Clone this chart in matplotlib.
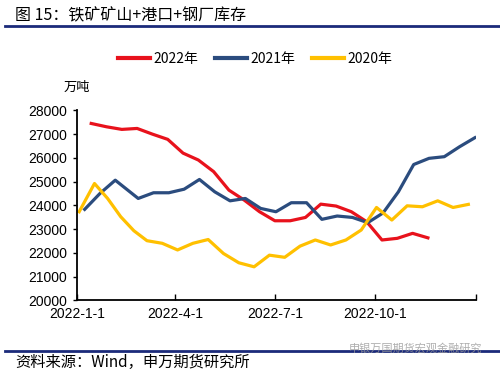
import matplotlib
matplotlib.use("Agg")
import matplotlib.pyplot as plt
import pandas as pd


# 2022 (red)
dates_2022 = ["2022-01-14", "2022-01-28", "2022-02-11", "2022-02-25", "2022-03-11",
              "2022-03-25", "2022-04-08", "2022-04-22", "2022-05-06", "2022-05-20",
              "2022-06-03", "2022-06-17", "2022-07-01", "2022-07-15", "2022-07-29",
              "2022-08-12", "2022-08-26", "2022-09-09", "2022-09-23", "2022-10-07",
              "2022-10-21", "2022-11-04", "2022-11-18"]
values_2022 = [27450, 27310, 27200, 27240, 27000,
               26780, 26200, 25910, 25420, 24640,
               24220, 23730, 23350, 23350, 23490,
               24050, 23970, 23730, 23310, 22540,
               22610, 22820, 22630]

# 2021 (blue)
dates_2021 = ["2022-01-08", "2022-01-22", "2022-02-05", "2022-02-26", "2022-03-12",
              "2022-03-26", "2022-04-09", "2022-04-23", "2022-05-07", "2022-05-21",
              "2022-06-04", "2022-06-18", "2022-07-02", "2022-07-16", "2022-07-30",
              "2022-08-13", "2022-08-27", "2022-09-10", "2022-09-24", "2022-10-08",
              "2022-10-22", "2022-11-05", "2022-11-19", "2022-12-03", "2022-12-17",
              "2022-12-31"]
values_2021 = [23830, 24500, 25060, 24290, 24530,
               24530, 24680, 25090, 24570, 24190,
               24290, 23870, 23730, 24110, 24110,
               23410, 23550, 23490, 23270, 23680,
               24570, 25720, 25980, 26050, 26470,
               26850]

# 2020 (yellow)
dates_2020 = ["2022-01-03", "2022-01-17", "2022-01-29", "2022-02-10", "2022-02-22",
              "2022-03-06", "2022-03-20", "2022-04-03", "2022-04-17", "2022-05-01",
              "2022-05-15", "2022-05-29", "2022-06-12", "2022-06-26", "2022-07-10",
              "2022-07-24", "2022-08-07", "2022-08-21", "2022-09-04", "2022-09-18",
              "2022-10-02", "2022-10-16", "2022-10-30", "2022-11-13", "2022-11-27",
              "2022-12-11", "2022-12-25"]
values_2020 = [23730, 24920, 24290, 23520, 22930,
               22510, 22400, 22120, 22400, 22560,
               21970, 21580, 21410, 21900, 21810,
               22280, 22540, 22330, 22540, 22960,
               23910, 23380, 23980, 23940, 24190,
               23910, 24040]

x_ticks = ["2022-01-01", "2022-04-01", "2022-07-01", "2022-10-01", "2023-01-01"]
x_tick_labels = ["2022-1-1", "2022-4-1", "2022-7-1", "2022-10-1", ""]
y_ticks = list(range(20000, 28001, 1000))

RED = "#E8121C"
BLUE = "#2B4C7E"
YELLOW = "#FFC000"
NAVY = "#1B2A7A"

plt.rcParams["font.family"] = ["Liberation Sans", "Noto Sans CJK SC", "DejaVu Sans"]
CJK = ["Noto Sans CJK SC", "DejaVu Sans"]

fig = plt.figure(figsize=(5.0, 3.73), dpi=100)
ax = fig.add_axes([0.154, 0.195, 0.798, 0.509])

ax.plot(pd.to_datetime(dates_2022), values_2022, color=RED, lw=2.3, label="2022年")
ax.plot(pd.to_datetime(dates_2021), values_2021, color=BLUE, lw=2.3, label="2021年")
ax.plot(pd.to_datetime(dates_2020), values_2020, color=YELLOW, lw=2.3, label="2020年")

ax.set_xlim(pd.Timestamp("2022-01-01"), pd.Timestamp("2023-01-01"))
ax.set_ylim(20000, 28000)
ax.set_yticks(y_ticks)
ax.set_xticks(pd.to_datetime(x_ticks))
ax.set_xticklabels(x_tick_labels)
ax.tick_params(axis="x", direction="in", length=4, width=1, labelsize=10, pad=5)
ax.tick_params(axis="y", direction="out", length=3, width=1, labelsize=10, pad=4)

for side in ["top", "right"]:
    ax.spines[side].set_visible(False)
for side in ["left", "bottom"]:
    ax.spines[side].set_linewidth(1.3)
    ax.spines[side].set_color("black")

leg = fig.legend(loc="center", bbox_to_anchor=(0.51, 0.842), ncol=3, frameon=False,
                 handlelength=2.3, handletextpad=0.25, columnspacing=1.2,
                 prop={"family": CJK, "size": 10})
for line in leg.get_lines():
    line.set_linewidth(3)

fig.text(0.154, 0.767, "万吨", fontsize=9.5, family=CJK, ha="center", va="center")

# title and footer
fig.text(0.03, 0.958, "图 15：铁矿矿山+港口+钢厂库存", fontsize=11.5, family=CJK,
         ha="left", va="center")
fig.add_artist(plt.Line2D([0.01, 1.0], [0.930, 0.930], color=NAVY, lw=2,
                          transform=fig.transFigure))
fig.add_artist(plt.Line2D([0.01, 1.0], [0.059, 0.059], color=NAVY, lw=2,
                          transform=fig.transFigure))
fig.text(0.03, 0.027, "资料来源：Wind，申万期货研究所", fontsize=11, family=CJK,
         ha="left", va="center")
fig.text(0.965, 0.067, "申银万国期货宏观金融研究", fontsize=8, family=CJK,
         color="#9a9a9a", alpha=0.8, ha="right", va="center")

fig.savefig("out.png", dpi=100)
